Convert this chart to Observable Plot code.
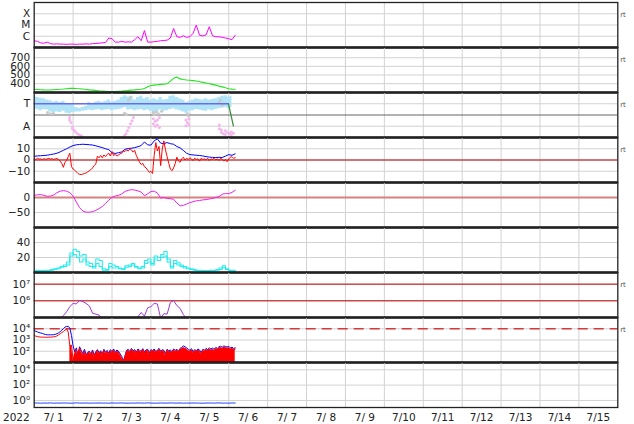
<!DOCTYPE html>
<html><head><meta charset="utf-8">
<script src="https://cdn.jsdelivr.net/npm/d3@7"></script>
<script src="https://cdn.jsdelivr.net/npm/@observablehq/plot@0.6"></script>
<style>
body{margin:0;background:#fff;}
#chart{position:relative;width:634px;height:424px;overflow:hidden;background:#fff;}
#chart svg{position:absolute;left:0;}
</style></head><body><div id="chart"></div>
<script>
// ---- labels ----
const dayLabels = ["7/ 1","7/ 2","7/ 3","7/ 4","7/ 5","7/ 6","7/ 7","7/ 8","7/ 9","7/10","7/11","7/12","7/13","7/14","7/15"];
const yearLabel = "2022";
const rtLabel = "rt";
const xrayTicks = [1e-6, 1e-5, 1e-4], xrayTickLabels = ["C", "M", "X"];
const speedTicks = [400, 500, 600, 700], speedTickLabels = ["400", "500", "600", "700"];
const phiTicks = [90, 270], phiTickLabels = ["A", "T"];
const bTicks = [-10, 0, 10], bTickLabels = ["−10", "0", "10"];
const dstTicks = [-50, 0], dstTickLabels = ["−50", "0"];
const cyanTicks = [20, 40], cyanTickLabels = ["20", "40"];
const eTicks = [1e6, 1e7], eTickLabels = ["10⁶", "10⁷"];
const pTicks = [1e2, 1e3, 1e4], pTickLabels = ["10²", "10³", "10⁴"];
const p9Ticks = [1, 1e2, 1e4], p9TickLabels = ["10⁰", "10²", "10⁴"];

// ---- data (hours from 7/1 00:00) ----
const step2 = 2, step1 = 1;
const xray = [4e-7,3.5e-7,2.6e-7,2.4e-7,3.0e-7,2.2e-7,2.0e-7,2.1e-7,2.0e-7,2.0e-7,
  1.9e-7,2.0e-7,2.0e-7,1.9e-7,2.0e-7,2.0e-7,2.1e-7,2.0e-7,2.2e-7,2.3e-7,
  2.4e-7,2.6e-7,2.8e-7,7e-7,6e-7,3e-7,3e-7,3.5e-7,3e-7,3.2e-7,
  3e-7,5e-7,9e-7,4e-7,3.2e-6,3e-7,3e-7,3.3e-7,3.5e-7,4e-7,
  4.2e-7,4.5e-7,7e-7,4.9e-6,9e-7,8e-7,1.1e-6,8e-7,9e-7,1.8e-6,
  1e-5,1.2e-6,1.1e-6,1.3e-6,7e-6,1.1e-6,9e-7,9e-7,8e-7,7e-7,
  6e-7,5e-7,1.2e-6];
const speed = [335,333,330,328,327,327,330,333,335,338,
  342,346,347,344,342,338,333,328,325,322,
  318,315,312,309,308,310,312,314,318,322,
  325,328,332,336,345,365,378,383,388,392,
  395,400,430,462,477,455,448,442,439,435,
  430,422,415,408,400,392,383,372,363,352,
  342,337,335];
const phiLo = [230,225,215,225,220,205,200,205,200,210,
  195,190,200,205,205,210,215,220,215,220,
  225,215,220,225,215,220,225,230,240,220,
  225,215,220,225,215,220,210,200,205,220,
  210,215,225,230,220,215,205,195,210,215,
  225,220,215,210,220,215,225,230,235,240,
  230,240];
const phiHi = [330,320,315,310,300,295,285,290,280,290,
  275,270,265,240,235,240,250,280,270,285,
  290,280,290,300,285,290,300,320,335,325,
  330,300,320,330,310,320,300,310,300,320,
  300,305,330,335,320,310,300,280,290,300,
  310,305,300,310,300,305,310,320,330,335,
  325,330];
const pinkT = [21.8,21.8,22.7,23.6,23.6,24.5,25.5,26.7,27.9,29.1,
  55.7,56.6,57.5,58.4,59.4,60.3,61.2,
  73.5,73.5,74.7,74.7,76.0,76.0,77.2,77.2,
  93.6,93.6,94.5,95.4,95.4,
  114.2,114.2,115.5,115.5,116.7,117.9,117.9,119.2,120.4,121.6,121.6,122.9];
const pinkPhi = [160,140,120,85,70,60,45,30,20,15,
  15,30,55,80,110,135,160,
  150,110,130,90,140,100,160,80,
  140,95,120,150,100,
  100,70,60,40,30,55,25,40,30,45,20,35];
const grayT = [8.2,10,11.9,55.7,56.9,58.2,59.4,73.5,74.1,75.3,76.6,78.6,94.5,95.1,114.2,114.8,116.1];
const grayPhi = [200,190,195,195,185,300,320,200,185,205,190,210,190,175,280,300,260];
const sectorT = [0, 119.8, 122.9];
const sectorPhi = [270, 270, 92];
const bt = [3.4,3.6,3.8,4,4.3,4.8,5.3,6,7.2,8.6,
  10,11.5,12.8,13.5,13.8,14,13.8,13.6,13.3,12.6,
  11.8,11,10,9.2,6.5,5.8,6.5,7.2,9.5,10.2,
  10.5,11,11.8,12.9,16,13.5,13.2,17,18.8,15,
  14.5,15.5,14.5,14,12,10.8,8.5,6,4.8,4.5,
  4.2,4,3.6,3,2.6,2.3,2.2,2.4,2.2,3.5,
  4.8,4.2,5.5];
const bz = [1,0.5,1.5,0.8,1,0.3,1.2,0.6,1,1.5,0.8,1.2,0.5,1,1.3,
  0.5,-1,-3,-6.5,-2,-0.5,3,6,-6,-8,
  -9,-10.5,-12,-12.8,-13,-12.5,-12,-11.5,-10.5,-9.5,
  -8.5,-7,-5,-3.5,3.5,2,4,2,4.5,3,
  5,6,3.5,7.5,4,5,3.5,4.5,5.5,6,
  8,7.5,9,8,10,9,7,8.5,4,1,
  -2,-4,-3,-6,-7,-9,-11,-10,-12,4,
  15.5,8,12,-5,10,17,9,3,-3,-8,
  -9.5,-7,-3,2.5,-1,-2,1,2.5,0,1.5,
  0.5,2,1,-0.5,1.5,0.5,1,-1,1.5,0.5,
  1,0,1.5,-0.5,1,0.5,1.5,0,1,-0.5,
  1.5,0.5,-1,0.5,-1.5,1,2.5,3,1.5,2];
const dst = [7,9,10,7,4,5,8,16,21,23,
  21,16,5,-15,-34,-45,-49,-49,-47,-43,
  -37,-30,-20,-9,1,5,7,12,20,24,
  26,25,22,18,6,12,20,21,15,-2,
  0,-3,-4,-6,-18,-28,-26,-22,-17,-14,
  -11,-10,-8,-7,-5,-3,0,3,11,13,
  13,17,24];
const cyanA = [3,3,2.5,3,3,4,5,6,8,10,
  14,22,31,28,22,24,14,12,8,18,
  16,5,4,12,10,8,6,5,9,10,
  12,8,6,8,16,18,12,22,20,24,
  28,18,8,16,13,10,8,6,5,4,
  3,3,2.5,2.5,3,3,4,6,9,5,
  3,3,2.5];
const cyanB = [2,2.5,2,2,2.5,3,4,5,7,8,
  10,26,24,20,14,18,10,8,6,12,
  8,3,3,8,6,6,5,4,7,8,
  10,7,5,6,12,14,10,18,16,20,
  22,14,6,12,10,8,6,5,4,3,
  2.5,2,2,2,2.5,2.5,3,4,7,4,
  2.5,2,2];
const electron = [null,null,null,null,null,null,null,null,8e4,1.3e5,
  2.2e5,4.5e5,7e5,6.5e5,1.05e6,9e5,7e5,5e5,1.8e5,1.6e5,
  1.4e5,8e4,null,null,null,null,null,null,null,null,
  null,null,1.1e5,2e5,1.2e5,3.8e5,4.5e5,7e5,6.5e5,9e4,
  1.7e5,1.6e5,8e5,1.05e6,5.2e5,3.5e5,1.5e5,8e4,null,null,
  null,null,null,null,null,null,null,null,null,null,
  null,null,null];
const protonBlue = [7000,6000,5200,4600,4200,3800,3400,3100,2900,2900,
  2900,2900,3000,3200,3600,4300,5500,7500,10000,14000,
  16000,16500,11000,2500,300,90,200,40,250,120,
  60,150,50,80,
  100,60,130,45,90,140,70,110,55,150,80,120,65,140,90,160,75,130,100,60,35,12,40,
  120,150,90,180,110,140,80,160,120,100,
  170,90,130,150,70,140,110,160,90,130,
  180,100,140,120,60,150,110,130,90,160,
  120,150,100,180,220,300,250,200,150,120,
  170,90,140,110,160,130,70,150,120,180,
  140,200,160,190,150,220,180,250,280,230,
  300,260,240,280,200,230,180,200];
const protonRed = [2500,2200,2000,1900,1800,1800,1800,1750,1750,1800,
  1800,1850,1900,2000,2300,2900,3500,4500,5500,7500,
  10000,5000,300,350,
  15,60,150,30,200,80,40,100,35,60,
  80,45,100,30,70,110,50,90,40,120,
  60,90,50,110,70,120,55,100,80,45,
  25,12,30,90,120,70,140,90,110,60,
  130,90,80,140,70,100,120,50,110,90,
  130,70,100,140,80,110,100,40,120,90,
  100,70,130,90,120,80,140,160,200,180,
  150,110,90,130,70,110,90,120,100,50,
  120,90,140,110,150,120,140,110,170,140,
  190,210,170,230,200,180,210,150,180,140,
  160];
const bottomBlue = [0.45,0.47,0.44,0.46,0.45,0.48,0.44,0.46,0.45,0.47,
  0.46,0.44,0.45,0.48,0.46,0.45,0.47,0.44,0.46,0.45,
  0.47,0.45,0.46,0.44,0.48,0.45,0.46,0.47,0.45,0.44,
  0.46,0.45,0.47,0.46,0.45,0.48,0.46,0.44,0.45,0.47,
  0.46,0.45,0.48,0.46,0.45,0.47,0.44,0.46,0.45,0.47,
  0.46,0.45,0.44,0.46,0.47,0.45,0.46,0.48,0.45,0.46,
  0.44,0.47,0.46];

// ---- build tables ----
const series = (arr, step) => arr.map((v, i) => ({t: i * step, v}));
const pairs = (ts, vs) => ts.map((t, i) => ({t, v: vs[i]}));
const phiBand = phiLo.map((lo, i) => ({t: i * step2, lo, hi: phiHi[i]}));
const sector = pairs(sectorT, sectorPhi);

// ---- layout ----
const chart = document.getElementById("chart");
const W = 634, PH = 45, TOP = 1.5, ML = 33.7, MR = 16.7, XB = 18;
const FONT = "'DejaVu Sans', sans-serif";
const GRID = "#d2d2d2";
const dayTicks = dayLabels.map((_, i) => 12 + 24 * i);
const midnights = dayLabels.slice(1).map((_, i) => 24 * (i + 1));
const fmt = (ticks, labels) => d => labels[ticks.indexOf(d)];

function panel(k, {y, ticks, labels, marks, rt = false, last = false}) {
  const svg = Plot.plot({
    width: W, height: PH + (last ? XB : 0),
    marginLeft: ML, marginRight: MR, marginTop: 0, marginBottom: last ? XB : 0,
    style: {fontFamily: FONT, fontSize: "10.5px", color: "#222", background: "none", overflow: "visible"},
    x: last
      ? {domain: [0, 360], ticks: dayTicks, tickFormat: fmt(dayTicks, dayLabels), tickSize: 0, tickPadding: 6, label: null}
      : {domain: [0, 360], axis: null},
    y: {...y, ticks, tickFormat: fmt(ticks, labels), tickSize: 0, tickPadding: 4, label: null},
    marks: [
      Plot.ruleX(midnights, {stroke: GRID}),
      Plot.ruleY(ticks, {stroke: GRID}),
      ...marks,
      Plot.frame({stroke: "#222", strokeWidth: 1.3}),
      last ? null : Plot.ruleY([y.domain[0]], {stroke: "#1c1c1c", strokeWidth: 2.6}),
      rt ? Plot.text([rtLabel], {frameAnchor: "top-right", dx: 8, dy: 10, fontSize: 7, fill: "#555"}) : null,
      last ? Plot.text([yearLabel], {frameAnchor: "bottom-left", dx: -4.5, dy: 6, textAnchor: "end", lineAnchor: "top", fontSize: 10.5, fill: "#222"}) : null
    ]
  });
  svg.style.top = (TOP + k * PH) + "px";
  chart.appendChild(svg);
}

// 1: X-ray class
panel(0, {y: {type: "log", domain: [1e-7, 1e-3]}, ticks: xrayTicks, labels: xrayTickLabels, rt: true,
  marks: [Plot.line(series(xray, step2), {x: "t", y: "v", stroke: "#ff00ff", strokeWidth: 1, clip: true})]});

// 2: solar wind speed
panel(1, {y: {domain: [298, 818]}, ticks: speedTicks, labels: speedTickLabels, rt: true,
  marks: [Plot.line(series(speed, step2), {x: "t", y: "v", stroke: "#1ee61e", strokeWidth: 1.1, clip: true})]});

// 3: sector (T/A)
panel(2, {y: {domain: [0, 360]}, ticks: phiTicks, labels: phiTickLabels, rt: true,
  marks: [
    Plot.ruleY([180], {stroke: "#666"}),
    Plot.areaY(phiBand, {x: "t", y1: "lo", y2: "hi", fill: "#b2e4f8", curve: "step", clip: true}),
    Plot.dot(pairs(grayT, grayPhi), {x: "t", y: "v", r: 1.5, fill: "#c8c8c8", stroke: null, clip: true}),
    Plot.dot(pairs(pinkT, pinkPhi), {x: "t", y: "v", r: 1.5, fill: "#f5b6ee", stroke: null, clip: true}),
    Plot.line(sector.slice(0, 2), {x: "t", y: "v", stroke: "#6b6bef", strokeWidth: 1.5}),
    Plot.line(sector.slice(1), {x: "t", y: "v", stroke: "#3d8a3d", strokeWidth: 1.2})
  ]});

// 4: Bt / Bz
panel(3, {y: {domain: [-20, 20]}, ticks: bTicks, labels: bTickLabels, rt: true,
  marks: [
    Plot.ruleY([0], {stroke: "#b40000"}),
    Plot.line(series(bt, step2), {x: "t", y: "v", stroke: "#0000ff", strokeWidth: 1, clip: true}),
    Plot.line(series(bz, step1), {x: "t", y: "v", stroke: "#ff0000", strokeWidth: 1, clip: true})
  ]});

// 5: Dst
panel(4, {y: {domain: [-100, 50]}, ticks: dstTicks, labels: dstTickLabels,
  marks: [
    Plot.ruleY([0], {stroke: "#d98080", strokeWidth: 2.2}),
    Plot.line(series(dst, step2), {x: "t", y: "v", stroke: "#ee22ee", strokeWidth: 1, clip: true})
  ]});

// 6: cyan index
panel(5, {y: {domain: [0, 60]}, ticks: cyanTicks, labels: cyanTickLabels,
  marks: [
    Plot.line(series(cyanB, step2), {x: "t", y: "v", stroke: "#22eeee", strokeWidth: 1.1, curve: "step-after", clip: true}),
    Plot.line(series(cyanA, step2), {x: "t", y: "v", stroke: "#22eeee", strokeWidth: 1.1, curve: "step-after", clip: true})
  ]});

// 7: electron fluence
panel(6, {y: {type: "log", domain: [1e5, 5e7]}, ticks: eTicks, labels: eTickLabels, rt: true,
  marks: [
    Plot.ruleY(eTicks, {stroke: "#c80000"}),
    Plot.line(series(electron, step2), {x: "t", y: "v", stroke: "#a03ad6", strokeWidth: 1, clip: true})
  ]});

// 8: proton flux
panel(7, {y: {type: "log", domain: [10, 1e5]}, ticks: pTicks, labels: pTickLabels, rt: true,
  marks: [
    Plot.ruleY([1e4], {stroke: "#d63a3a", strokeWidth: 1.5, strokeDasharray: "10,6"}),
    Plot.line(series(protonBlue, step1), {x: "t", y: "v", stroke: "#0000ff", strokeWidth: 1, clip: true}),
    Plot.areaY(series(protonRed, step1), {x: "t", y1: 10, y2: "v", fill: "#ff0000", filter: d => d.t >= 22, clip: true}),
    Plot.line(series(protonRed, step1), {x: "t", y: "v", stroke: "#ff0000", strokeWidth: 1, clip: true})
  ]});

// 9: bottom panel
panel(8, {y: {type: "log", domain: [10 ** -0.92, 10 ** 4.95]}, ticks: p9Ticks, labels: p9TickLabels, last: true,
  marks: [Plot.line(series(bottomBlue, step2), {x: "t", y: "v", stroke: "#2244ff", strokeWidth: 1, clip: true})]});
</script>
</body></html>
